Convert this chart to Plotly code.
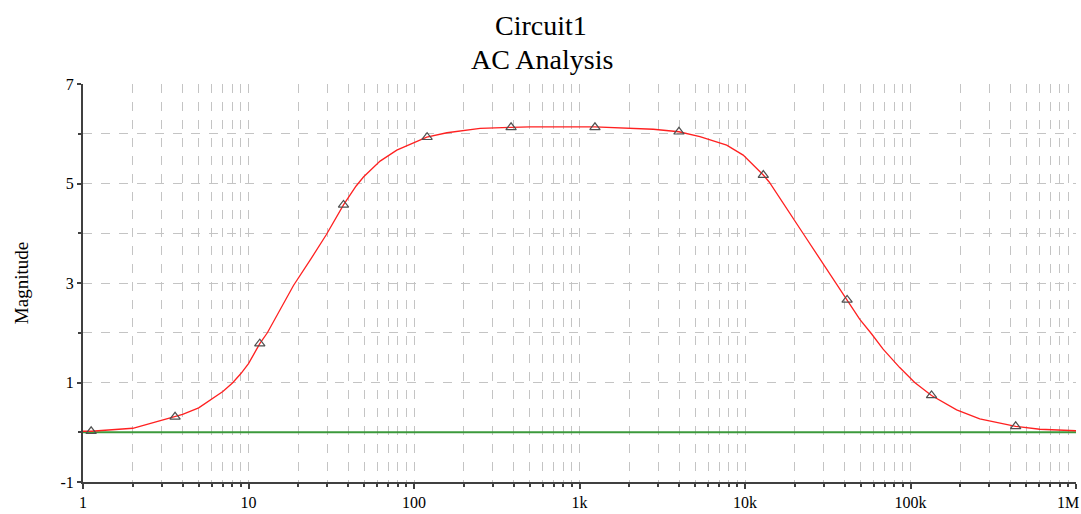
import plotly.graph_objects as go

# Red trace: magnitude
freq = [1, 1.12, 2, 3, 3.6, 4, 5, 6, 7, 8, 9, 10, 11.7, 13, 18.7, 24, 29.5, 37.5, 44.7,
        49.5, 62.4, 78.7, 99.2, 119.5, 158, 199, 251, 386, 502, 1240, 2790, 3990,
        5340, 7750, 9750, 12900, 14000, 22400, 35500, 41400, 49400, 58100, 68300,
        86100, 106000, 134000, 190000, 262000, 432000, 604000, 1000000]
mag = [0.02, 0.02, 0.08, 0.24, 0.31, 0.36, 0.49, 0.66, 0.82, 0.99, 1.18, 1.38, 1.78, 2.0,
       2.95, 3.5, 3.97, 4.57, 4.95, 5.13, 5.45, 5.67, 5.81, 5.93, 6.02, 6.07, 6.11, 6.13, 6.14,
       6.14, 6.09, 6.04, 5.94, 5.77, 5.57, 5.17, 5.03, 4.0, 3.0, 2.67, 2.27, 1.98, 1.67,
       1.30, 1.00, 0.74, 0.45, 0.27, 0.12, 0.06, 0.03]

# Triangle markers on the red trace
mark_freq = [1.12, 3.6, 11.7, 37.5, 120, 386, 1240, 3990, 12900, 41400, 134000, 432000]
mark_mag = [0.02, 0.31, 1.78, 4.57, 5.93, 6.13, 6.13, 6.04, 5.17, 2.66, 0.74, 0.12]

# Green trace
green_freq = [1, 1000000]
green_mag = [0, 0]

x_tickvals = [1, 10, 100, 1000, 10000, 100000, 1000000]
x_ticktext = ["1", "10", "100", "1k", "10k", "100k", "1M"]
x_minorvals = [m * d for d in [1, 10, 100, 1000, 10000, 100000] for m in range(2, 10)]
y_tickvals = [-1, 1, 3, 5, 7]
y_ticktext = ["-1", "1", "3", "5", "7"]
y_minorvals = [0, 2, 4, 6]

FONT = "Liberation Serif, Times New Roman, serif"
GRID = "#c4c4c4"
AXIS = "#404040"

fig = go.Figure()
fig.add_trace(go.Scatter(x=green_freq, y=green_mag, mode="lines",
                         line=dict(color="#3c9a3c", width=2), hoverinfo="skip"))
fig.add_trace(go.Scatter(x=freq, y=mag, mode="lines",
                         line=dict(color="#ff2020", width=1.3)))
fig.add_trace(go.Scatter(x=mark_freq, y=mark_mag, mode="markers",
                         marker=dict(symbol="triangle-up-open", size=9,
                                     color="#505050", line=dict(width=1.2, color="#505050"))))

# the last x tick label sits at the right edge: draw it right-aligned so it stays inside
shown_ticktext = x_ticktext[:-1] + [""]

fig.update_layout(
    width=1081, height=514,
    margin=dict(l=83, r=5, t=84, b=32),
    paper_bgcolor="white", plot_bgcolor="white",
    showlegend=False,
    font=dict(family=FONT, color="black", size=16),
    annotations=[
        dict(text="Circuit1", xref="paper", yref="paper", x=(540.5 - 83) / 993, y=1 + (84 - 26) / 398,
             xanchor="center", yanchor="middle", showarrow=False,
             font=dict(family=FONT, size=28, color="black")),
        dict(text="AC Analysis", xref="paper", yref="paper", x=(542 - 83) / 993, y=1 + (84 - 60) / 398,
             xanchor="center", yanchor="middle", showarrow=False,
             font=dict(family=FONT, size=28, color="black")),
        dict(text=x_ticktext[-1], xref="paper", yref="paper", x=(1080 - 83) / 993,
             y=(482 - 502) / 398, xanchor="right", yanchor="middle", showarrow=False,
             borderpad=0, font=dict(family=FONT, size=16, color="black")),
    ],
)
fig.update_xaxes(
    type="log", range=[0, 6], automargin=False,
    tickmode="array", tickvals=x_tickvals, ticktext=shown_ticktext,
    showline=True, linecolor=AXIS, linewidth=2,
    ticks="outside", ticklen=5, tickwidth=1.5, tickcolor=AXIS,
    showgrid=True, gridcolor=GRID, griddash="dash", gridwidth=1,
    minor=dict(tickmode="array", tickvals=x_minorvals, ticks="outside", ticklen=3,
               tickcolor=AXIS, showgrid=True, gridcolor=GRID, griddash="dash", gridwidth=1),
    zeroline=False, tickfont=dict(family=FONT, size=16, color="black"),
)
fig.update_yaxes(
    range=[-1, 7], automargin=False,
    tickmode="array", tickvals=y_tickvals, ticktext=y_ticktext,
    showline=True, linecolor=AXIS, linewidth=2,
    ticks="outside", ticklen=4, tickwidth=1.5, tickcolor=AXIS,
    showgrid=True, gridcolor=GRID, griddash="dash", gridwidth=1,
    minor=dict(tickmode="array", tickvals=y_minorvals, ticks="outside", ticklen=3,
               tickcolor=AXIS, showgrid=True, gridcolor=GRID, griddash="dash", gridwidth=1),
    zeroline=False, tickfont=dict(family=FONT, size=16, color="black"),
    title=dict(text="Magnitude", font=dict(family=FONT, size=19, color="black"), standoff=27),
)

fig.write_html("out.html", config={"displayModeBar": False},
               post_script="document.body.style.margin='0';")
